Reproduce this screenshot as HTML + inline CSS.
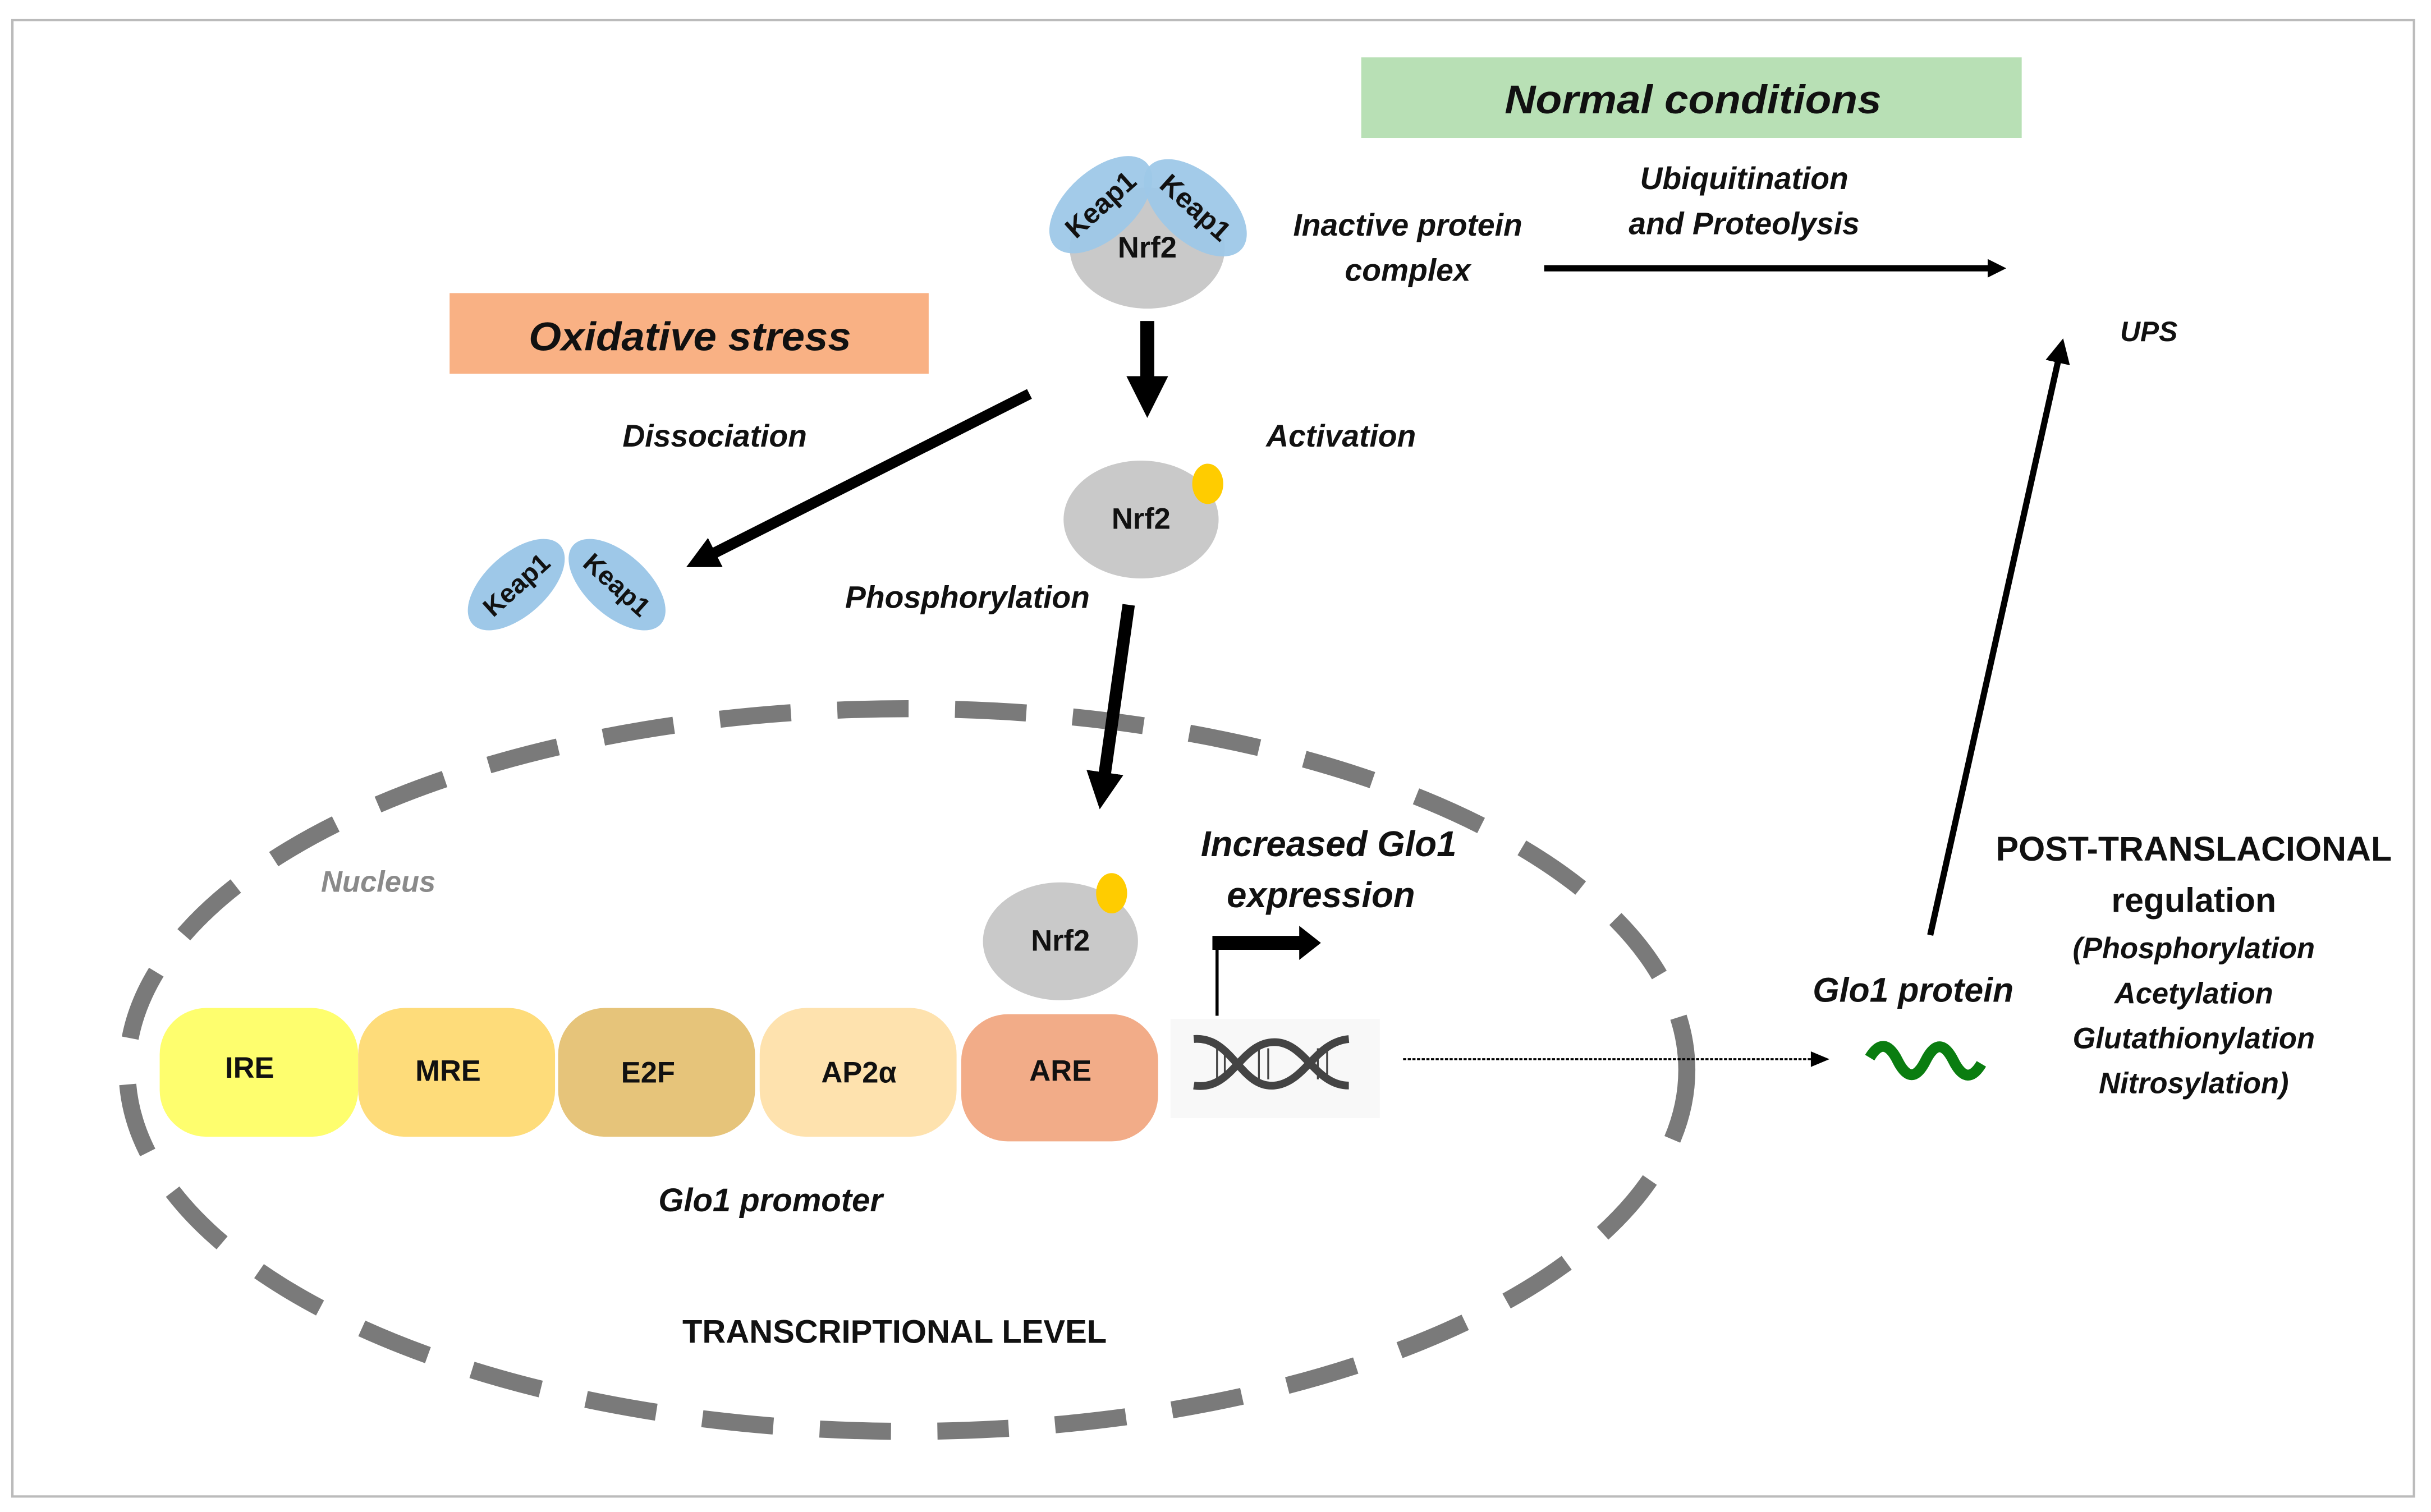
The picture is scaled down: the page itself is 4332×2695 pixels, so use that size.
<!DOCTYPE html>
<html><head><meta charset="utf-8"><style>html,body{margin:0;padding:0;background:#fff}svg{display:block}text{font-family:"Liberation Sans",sans-serif;font-weight:bold;fill:#111}</style></head>
<body>
<svg width="4332" height="2695" viewBox="0 0 1568 975" preserveAspectRatio="none" xmlns="http://www.w3.org/2000/svg">
<defs>
<marker id="ah" markerWidth="3" markerHeight="3" refX="1.5" refY="1.5" orient="auto" markerUnits="strokeWidth"><path d="M0,0 L3,1.5 L0,3 z" fill="#000"/></marker>
<marker id="ah2" markerWidth="4" markerHeight="4" refX="2" refY="2" orient="auto" markerUnits="strokeWidth"><path d="M0,0 L4,2 L0,4 z" fill="#000"/></marker>
</defs>
<rect x="8" y="13" width="1549" height="952" fill="#fff" stroke="#bbb" stroke-width="1.5"/>
<rect x="878" y="37" width="426" height="52" fill="#b8e0b5"/>
<text x="1092" y="73" font-size="26" font-style="italic" text-anchor="middle" textLength="243" lengthAdjust="spacingAndGlyphs">Normal conditions</text>
<rect x="290" y="189" width="309" height="52" fill="#f9b184"/>
<text x="445" y="226" font-size="26" font-style="italic" text-anchor="middle" textLength="208" lengthAdjust="spacingAndGlyphs">Oxidative stress</text>
<ellipse cx="585" cy="690" rx="503" ry="233" fill="none" stroke="#7a7a7a" stroke-width="11" stroke-dasharray="46 30"/>
<text x="244" y="575" font-size="19" font-style="italic" style="fill:#8a8a8a" text-anchor="middle">Nucleus</text>
<ellipse cx="740" cy="160" rx="50" ry="39" fill="#c9c9c9"/>
<ellipse cx="710" cy="132" rx="40" ry="22" fill="#9ec8e8" opacity="0.95" transform="rotate(-42 710 132)"/>
<ellipse cx="771" cy="134" rx="40" ry="22" fill="#9ec8e8" opacity="0.95" transform="rotate(42 771 134)"/>
<text x="710" y="138" font-size="18" text-anchor="middle" transform="rotate(-42 710 132)">Keap1</text>
<text x="771" y="140" font-size="18" text-anchor="middle" transform="rotate(42 771 134)">Keap1</text>
<text x="740" y="166" font-size="19" text-anchor="middle">Nrf2</text>
<line x1="740" y1="207" x2="740" y2="256" stroke="#000" stroke-width="9" marker-end="url(#ah)"/>
<text x="908" y="152" font-size="20" font-style="italic" text-anchor="middle">Inactive protein</text>
<text x="908" y="181" font-size="20" font-style="italic" text-anchor="middle">complex</text>
<text x="1125" y="122" font-size="20" font-style="italic" text-anchor="middle">Ubiquitination</text>
<text x="1125" y="151" font-size="20" font-style="italic" text-anchor="middle">and Proteolysis</text>
<line x1="996" y1="173" x2="1288" y2="173" stroke="#000" stroke-width="4" marker-end="url(#ah)"/>
<text x="1386" y="220" font-size="18" font-style="italic" text-anchor="middle">UPS</text>
<ellipse cx="736" cy="335" rx="50" ry="38" fill="#c9c9c9"/>
<ellipse cx="779" cy="312" rx="10" ry="13" fill="#ffcc00"/>
<text x="736" y="341" font-size="19" text-anchor="middle">Nrf2</text>
<text x="865" y="288" font-size="20" font-style="italic" text-anchor="middle">Activation</text>
<text x="461" y="288" font-size="20" font-style="italic" text-anchor="middle">Dissociation</text>
<text x="624" y="392" font-size="20" font-style="italic" text-anchor="middle">Phosphorylation</text>
<line x1="664" y1="254" x2="452" y2="361" stroke="#000" stroke-width="7" marker-end="url(#ah)"/>
<ellipse cx="333" cy="377" rx="38" ry="20" fill="#9ec8e8" transform="rotate(-42 333 377)"/>
<ellipse cx="398" cy="377" rx="38" ry="20" fill="#9ec8e8" transform="rotate(42 398 377)"/>
<text x="333" y="383" font-size="17" text-anchor="middle" transform="rotate(-42 333 377)">Keap1</text>
<text x="398" y="383" font-size="17" text-anchor="middle" transform="rotate(42 398 377)">Keap1</text>
<line x1="728" y1="390" x2="711" y2="510" stroke="#000" stroke-width="8" marker-end="url(#ah)"/>
<ellipse cx="684" cy="607" rx="50" ry="38" fill="#c9c9c9"/>
<ellipse cx="717" cy="576" rx="10" ry="13" fill="#ffcc00"/>
<text x="684" y="613" font-size="19" text-anchor="middle">Nrf2</text>
<text x="857" y="552" font-size="23" font-style="italic" text-anchor="middle">Increased Glo1</text>
<text x="852" y="585" font-size="23" font-style="italic" text-anchor="middle">expression</text>
<line x1="785" y1="655" x2="785" y2="608" stroke="#000" stroke-width="2"/>
<line x1="782" y1="608" x2="840" y2="608" stroke="#000" stroke-width="9"/>
<path d="M838,597 L852,608 L838,619 z" fill="#000"/>
<rect x="103" y="650" width="128" height="83" rx="30" fill="#fefe6e"/>
<rect x="231" y="650" width="127" height="83" rx="30" fill="#fedc7a"/>
<rect x="360" y="650" width="127" height="83" rx="30" fill="#e6c47a"/>
<rect x="490" y="650" width="127" height="83" rx="30" fill="#fee2ae"/>
<rect x="620" y="654" width="127" height="82" rx="30" fill="#f2ac88"/>
<g font-size="19" text-anchor="middle">
<text x="161" y="695">IRE</text>
<text x="289" y="697">MRE</text>
<text x="418" y="698">E2F</text>
<text x="554" y="698">AP2α</text>
<text x="684" y="697">ARE</text>
</g>
<rect x="755" y="657" width="135" height="64" fill="#f8f8f8"/>
<path d="M770,670 C795,668 800,702 822,700 C842,698 848,672 870,670" fill="none" stroke="#444" stroke-width="5"/>
<path d="M770,700 C795,704 800,672 822,672 C842,672 848,700 870,700" fill="none" stroke="#444" stroke-width="5"/>
<g stroke="#444" stroke-width="1.2"><line x1="785" y1="676" x2="785" y2="696"/><line x1="790" y1="676" x2="790" y2="696"/><line x1="812" y1="676" x2="812" y2="696"/><line x1="818" y1="676" x2="818" y2="696"/><line x1="850" y1="676" x2="850" y2="696"/><line x1="856" y1="676" x2="856" y2="696"/></g>
<text x="497" y="781" font-size="21" font-style="italic" text-anchor="middle">Glo1 promoter</text>
<text x="577" y="866" font-size="21" text-anchor="middle">TRANSCRIPTIONAL LEVEL</text>
<line x1="905" y1="683" x2="1170" y2="683" stroke="#000" stroke-width="1.3" stroke-dasharray="2 1"/>
<path d="M1168,678 L1180,683 L1168,688 z" fill="#000"/>
<text x="1234" y="646" font-size="22" font-style="italic" text-anchor="middle">Glo1 protein</text>
<path d="M1206,682 C1212,672 1218,672 1224,684 C1230,696 1236,696 1242,684 C1248,672 1254,672 1260,684 C1266,696 1272,696 1278,686" fill="none" stroke="#0a7d10" stroke-width="7"/>
<line x1="1245" y1="603" x2="1329" y2="226" stroke="#000" stroke-width="4" marker-end="url(#ah2)"/>
<text x="1415" y="555" font-size="22" text-anchor="middle">POST-TRANSLACIONAL</text>
<text x="1415" y="588" font-size="22" text-anchor="middle">regulation</text>
<text x="1415" y="618" font-size="19" font-style="italic" text-anchor="middle">(Phosphorylation</text>
<text x="1415" y="647" font-size="19" font-style="italic" text-anchor="middle">Acetylation</text>
<text x="1415" y="676" font-size="19" font-style="italic" text-anchor="middle">Glutathionylation</text>
<text x="1415" y="705" font-size="19" font-style="italic" text-anchor="middle">Nitrosylation)</text>
</svg>
</body></html>
